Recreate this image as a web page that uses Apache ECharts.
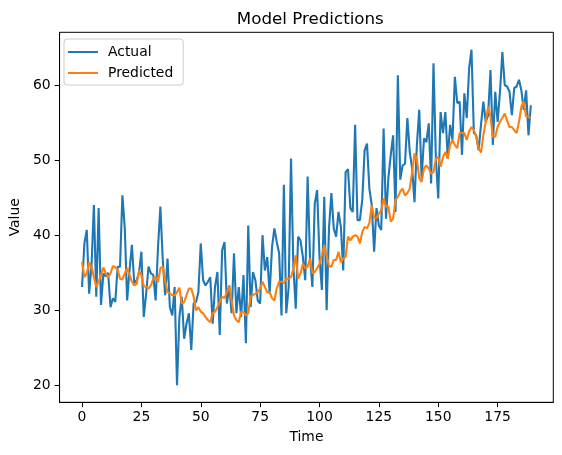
<!DOCTYPE html>
<html>
<head>
<meta charset="utf-8">
<script src="https://cdn.jsdelivr.net/npm/echarts@6/dist/echarts.min.js"></script>
<style>
html,body{margin:0;padding:0;background:#fff;}
#chart{width:562px;height:455px;}
</style>
</head>
<body>
<div id="chart"></div>
<script>
const actual = [
33.1, 38.9, 40.7, 32.2, 36.0, 44.0, 31.8, 43.6, 30.7, 34.9,
34.5, 35.0, 30.4, 31.6, 31.1, 35.8, 35.8, 45.3, 41.0, 31.3,
35.3, 38.7, 33.6, 34.0, 35.0, 37.8, 29.1, 32.2, 35.8, 34.9,
34.7, 31.3, 38.4, 43.8, 36.7, 32.0, 36.9, 30.4, 29.3, 33.1,
20.0, 29.1, 31.8, 26.2, 28.2, 29.6, 24.7, 30.9, 31.1, 32.4,
38.9, 34.0, 33.3, 33.8, 34.4, 28.2, 33.1, 35.1, 26.7, 38.0,
39.1, 30.9, 33.3, 29.6, 37.6, 29.6, 33.1, 29.1, 34.7, 25.6,
41.3, 30.4, 35.1, 34.0, 31.3, 30.9, 40.0, 35.3, 37.1, 32.2,
38.4, 40.9, 39.1, 37.6, 29.3, 46.7, 29.6, 33.0, 50.2, 35.8,
30.2, 39.8, 39.3, 37.1, 34.0, 47.8, 37.1, 33.1, 44.2, 46.0,
37.1, 32.7, 45.1, 30.0, 40.9, 45.6, 40.9, 39.8, 43.1, 41.1,
35.3, 48.4, 48.8, 43.6, 43.1, 54.7, 42.0, 42.0, 44.7, 51.3,
52.2, 46.2, 44.0, 37.8, 43.6, 41.3, 40.7, 54.2, 42.2, 47.6,
50.7, 53.3, 43.1, 61.3, 47.4, 49.3, 49.5, 55.6, 51.1, 48.9,
44.4, 52.0, 56.7, 47.6, 52.9, 52.4, 54.9, 46.9, 62.9, 50.2,
44.9, 56.4, 53.6, 56.4, 50.2, 54.7, 52.7, 61.1, 57.6, 57.8,
50.7, 58.9, 55.6, 62.2, 64.7, 53.6, 53.3, 51.3, 54.7, 57.8,
55.1, 56.0, 62.0, 52.0, 59.1, 55.1, 59.1, 64.4, 60.0, 59.8,
59.1, 56.0, 59.6, 59.8, 60.7, 59.3, 56.7, 59.3, 53.3, 57.3
];
const predicted = [
36.4, 34.4, 34.9, 36.4, 35.8, 34.4, 33.1, 33.8, 34.7, 35.7,
34.9, 34.4, 34.9, 35.9, 35.7, 35.4, 34.2, 34.1, 34.9, 35.6,
34.7, 33.8, 33.3, 33.5, 35.3, 34.7, 33.2, 33.1, 32.9, 33.3,
34.2, 34.4, 33.8, 35.6, 35.8, 33.9, 32.4, 32.2, 32.0, 32.0,
32.4, 33.0, 30.9, 31.1, 32.0, 32.9, 32.9, 31.8, 30.0, 30.4,
29.8, 29.6, 29.1, 28.7, 28.4, 29.6, 29.8, 30.4, 31.1, 31.8,
31.6, 32.4, 33.2, 31.3, 29.3, 28.7, 28.4, 29.8, 29.8, 29.3,
29.6, 31.8, 32.0, 32.2, 32.4, 32.9, 33.8, 33.1, 32.4, 32.4,
31.6, 31.3, 32.9, 33.8, 33.8, 33.6, 34.2, 34.2, 34.4, 35.5,
37.3, 34.2, 34.9, 36.2, 35.6, 35.8, 36.9, 34.9, 35.1, 35.6,
36.2, 37.3, 38.7, 37.3, 35.9, 35.8, 36.7, 36.7, 37.8, 36.4,
36.9, 37.1, 39.8, 39.3, 39.8, 40.0, 39.8, 38.9, 40.4, 41.1,
40.9, 41.6, 44.0, 42.3, 42.3, 42.9, 43.3, 44.9, 43.8, 43.8,
41.8, 42.2, 44.7, 45.1, 45.8, 46.2, 45.3, 45.6, 46.2, 48.4,
50.9, 50.2, 47.6, 47.1, 48.9, 49.3, 48.9, 48.2, 48.4, 50.2,
50.4, 49.1, 50.4, 51.1, 50.2, 52.0, 52.7, 52.0, 51.6, 53.6,
53.6, 53.6, 52.7, 53.8, 54.4, 54.0, 53.1, 51.6, 51.0, 53.3,
55.1, 57.1, 55.8, 53.1, 53.1, 54.4, 55.1, 55.6, 56.2, 55.3,
54.4, 54.4, 54.0, 53.6, 55.1, 57.1, 57.8, 55.8, 55.8, 55.6
];
const xTicks = [0, 25, 50, 75, 100, 125, 150, 175];
const yTicks = [20, 30, 40, 50, 60];

const actualData = actual.map((v, i) => [i, v]);
const predData = predicted.map((v, i) => [i, v]);

const FONT = 'DejaVu Sans';
const chart = echarts.init(document.getElementById('chart'), null, {renderer: 'canvas'});
chart.setOption({
  animation: false,
  backgroundColor: '#ffffff',
  title: {
    text: 'Model Predictions',
    left: 305.3,
    textAlign: 'center',
    top: 6,
    textStyle: {fontFamily: FONT, fontSize: 16.7, fontWeight: 'normal', color: '#000'}
  },
  legend: {
    orient: 'vertical',
    left: 64,
    top: 39,
    padding: [6, 10, 5, 4],
    itemWidth: 30,
    itemHeight: 2,
    itemGap: 7,
    icon: 'rect',
    borderColor: '#cccccc',
    borderWidth: 1,
    borderRadius: 3,
    backgroundColor: 'rgba(255,255,255,0.8)',
    textStyle: {fontFamily: FONT, fontSize: 13.9, color: '#000', padding: [0, 0, 0, 5]},
    data: ['Actual', 'Predicted']
  },
  grid: {left: 57.3, top: 32.3, width: 496, height: 370, show: true, borderColor: '#000', borderWidth: 1, backgroundColor: 'transparent'},
  xAxis: {
    type: 'value',
    min: -9.45, max: 198.45,
    name: 'Time',
    nameLocation: 'middle',
    nameGap: 28,
    nameTextStyle: {fontFamily: FONT, fontSize: 13.9, color: '#000'},
    axisLine: {show: true, onZero: false, lineStyle: {color: '#000', width: 1}},
    axisTick: {show: true, length: 4.9, lineStyle: {color: '#000'}, customValues: xTicks},
    axisLabel: {fontFamily: FONT, fontSize: 13.9, color: '#000', margin: 8, customValues: xTicks},
    splitLine: {show: false}
  },
  yAxis: {
    type: 'value',
    min: 17.74, max: 67.02,
    name: 'Value',
    nameLocation: 'middle',
    nameGap: 36,
    nameRotate: 90,
    nameTextStyle: {fontFamily: FONT, fontSize: 13.9, color: '#000'},
    axisLine: {show: true, onZero: false, lineStyle: {color: '#000', width: 1}},
    axisTick: {show: true, length: 4.9, lineStyle: {color: '#000'}, customValues: yTicks},
    axisLabel: {fontFamily: FONT, fontSize: 13.9, color: '#000', margin: 9, customValues: yTicks},
    splitLine: {show: false}
  },
  series: [
    {name: 'Actual', type: 'line', data: actualData, showSymbol: false, symbol: 'none',
     lineStyle: {color: '#1f77b4', width: 2.1}, itemStyle: {color: '#1f77b4'}},
    {name: 'Predicted', type: 'line', data: predData, showSymbol: false, symbol: 'none',
     lineStyle: {color: '#ff7f0e', width: 2.1}, itemStyle: {color: '#ff7f0e'}}
  ]
});
</script>
</body>
</html>
